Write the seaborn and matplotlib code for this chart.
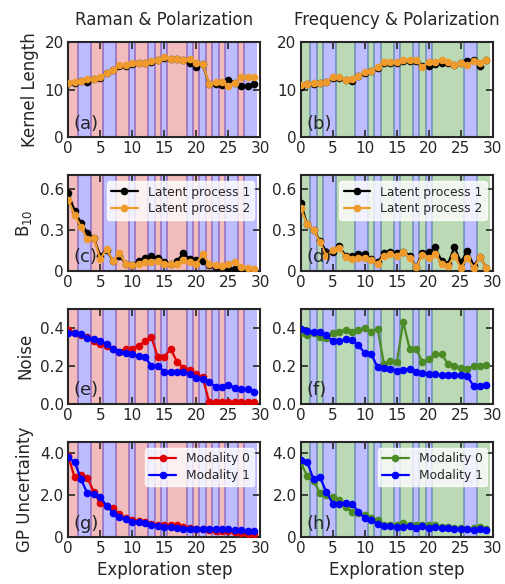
import numpy as np
import pandas as pd
import matplotlib
matplotlib.use("Agg")
import matplotlib.pyplot as plt
import seaborn as sns

steps = list(range(30))

# modality chosen at each step (0 = first modality, 1 = polarization)
mod_left = [0, 0, 1, 1, 0, 0, 1, 1, 0, 0, 1, 0, 0, 1, 0, 1, 0, 0, 0, 1,
            0, 1, 0, 1, 0, 1, 1, 0, 1, 1]
mod_right = [0, 0, 1, 0, 1, 1, 0, 0, 0, 1, 1, 0, 1, 0, 0, 1, 0, 0, 1, 0,
             1, 0, 0, 0, 0, 0, 1, 1, 0, 0]

# Kernel length
kl_a1 = [11.3, 11.5, 11.8, 11.7, 12.2, 12.5, 13.4, 14.1, 14.9, 15.0, 15.4, 15.5, 15.5, 15.9, 16.2,
         16.7, 16.4, 16.4, 16.2, 15.6, 14.8, 15.3, 11.1, 11.1, 11.0, 12.1, 11.5, 10.8, 10.8, 11.1]
kl_a2 = [11.5, 11.7, 11.9, 12.2, 12.3, 12.6, 13.5, 14.2, 15.1, 15.2, 15.5, 15.6, 15.6, 16.0, 16.3,
         16.8, 16.5, 16.5, 16.3, 16.5, 15.6, 15.4, 11.2, 11.6, 11.7, 10.8, 11.5, 12.6, 12.6, 12.6]
kl_b1 = [10.5, 11.1, 11.2, 11.4, 11.6, 12.5, 12.5, 12.0, 11.9, 12.8, 13.6, 13.9, 14.6, 15.7, 15.7,
         15.7, 16.1, 16.1, 16.1, 15.0, 15.0, 15.4, 15.6, 15.7, 15.2, 15.6, 16.0, 16.2, 14.9, 16.2]
kl_b2 = [11.0, 11.2, 11.3, 11.5, 11.7, 12.6, 12.6, 12.1, 12.2, 12.9, 13.8, 14.0, 14.8, 15.8, 15.8,
         15.8, 16.2, 16.2, 16.2, 14.8, 15.8, 15.8, 16.2, 15.8, 15.2, 15.7, 15.2, 16.0, 15.7, 16.3]

# B10
b_c1 = [0.57, 0.44, 0.35, 0.28, 0.24, 0.11, 0.15, 0.07, 0.11, 0.05, 0.04, 0.07, 0.09, 0.11, 0.09,
        0.06, 0.05, 0.07, 0.13, 0.085, 0.08, 0.07, 0.04, 0.03, 0.03, 0.017, 0.01, 0.005, 0.003, 0.002]
b_c2 = [0.52, 0.41, 0.32, 0.23, 0.24, 0.085, 0.16, 0.07, 0.13, 0.05, 0.04, 0.05, 0.06, 0.06, 0.07,
        0.05, 0.045, 0.05, 0.08, 0.06, 0.05, 0.12, 0.05, 0.04, 0.035, 0.05, 0.06, 0.025, 0.02, 0.015]
b_d1 = [0.50, 0.34, 0.30, 0.22, 0.14, 0.14, 0.18, 0.11, 0.11, 0.12, 0.12, 0.085, 0.06, 0.13, 0.14,
        0.13, 0.14, 0.11, 0.025, 0.13, 0.135, 0.17, 0.07, 0.05, 0.175, 0.06, 0.145, 0.035, 0.10, 0.02]
b_d2 = [0.46, 0.34, 0.30, 0.21, 0.11, 0.15, 0.165, 0.10, 0.085, 0.095, 0.095, 0.08, 0.05, 0.11, 0.12,
        0.11, 0.14, 0.095, 0.025, 0.115, 0.095, 0.12, 0.05, 0.035, 0.11, 0.02, 0.095, 0.02, 0.10, 0.02]

# Noise
n_e0 = [0.39, 0.375, 0.36, 0.35, 0.33, 0.315, 0.305, 0.29, 0.275, 0.29, 0.29, 0.305, 0.33, 0.35, 0.245,
        0.245, 0.29, 0.22, 0.19, 0.18, 0.155, 0.14, 0.01, 0.01, 0.01, 0.01, 0.008, 0.008, 0.008, 0.008]
n_e1 = [0.375, 0.37, 0.365, 0.345, 0.34, 0.33, 0.315, 0.29, 0.275, 0.27, 0.26, 0.25, 0.245, 0.20, 0.20,
        0.17, 0.17, 0.17, 0.17, 0.155, 0.135, 0.13, 0.115, 0.09, 0.09, 0.10, 0.085, 0.08, 0.077, 0.065]
n_f0 = [0.375, 0.36, 0.37, 0.35, 0.345, 0.37, 0.38, 0.39, 0.38, 0.39, 0.40, 0.38, 0.395, 0.21, 0.225,
        0.22, 0.43, 0.29, 0.29, 0.22, 0.235, 0.26, 0.26, 0.21, 0.20, 0.19, 0.185, 0.20, 0.20, 0.205]
n_f1 = [0.395, 0.385, 0.38, 0.38, 0.36, 0.33, 0.33, 0.34, 0.335, 0.31, 0.265, 0.26, 0.195, 0.19, 0.185,
        0.175, 0.18, 0.185, 0.17, 0.165, 0.155, 0.155, 0.15, 0.15, 0.15, 0.15, 0.145, 0.095, 0.095, 0.10]

# GP uncertainty
u_g0 = [3.86, 2.83, 2.94, 2.80, 2.15, 1.60, 1.48, 1.40, 1.08, 0.89, 0.84, 0.76, 0.73, 0.64, 0.60,
        0.57, 0.56, 0.56, 0.50, 0.45, 0.41, 0.40, 0.33, 0.32, 0.29, 0.29, 0.25, 0.19, 0.17, 0.16]
u_g1 = [3.78, 3.55, 2.75, 2.07, 2.03, 1.91, 1.48, 1.16, 0.95, 0.87, 0.72, 0.72, 0.68, 0.60, 0.52,
        0.48, 0.48, 0.45, 0.41, 0.40, 0.41, 0.40, 0.41, 0.40, 0.37, 0.37, 0.33, 0.33, 0.32, 0.29]
u_h0 = [3.55, 2.90, 2.67, 2.10, 2.00, 1.90, 1.75, 1.43, 1.21, 1.13, 1.05, 0.89, 0.84, 0.56, 0.56,
        0.57, 0.68, 0.60, 0.57, 0.57, 0.57, 0.56, 0.49, 0.49, 0.45, 0.45, 0.41, 0.45, 0.48, 0.37]
u_h1 = [3.63, 3.55, 2.75, 2.83, 2.15, 1.59, 1.59, 1.64, 1.59, 1.21, 0.89, 0.80, 0.64, 0.52, 0.52,
        0.49, 0.49, 0.52, 0.45, 0.52, 0.45, 0.48, 0.45, 0.45, 0.41, 0.41, 0.41, 0.33, 0.37, 0.33]

col_titles = ["Raman & Polarization", "Frequency & Polarization"]
row_labels = ["Kernel Length", "B$_{10}$", "Noise", "GP Uncertainty"]
panel_tags = ["(a)", "(b)", "(c)", "(d)", "(e)", "(f)", "(g)", "(h)"]
latent_names = ["Latent process 1", "Latent process 2"]
modality_names = ["Modality 0", "Modality 1"]

sns.set_theme(style="ticks")
plt.rcParams["font.family"] = ["DejaVu Sans"]
plt.rcParams["xtick.direction"] = "in"
plt.rcParams["ytick.direction"] = "in"
plt.rcParams["xtick.top"] = True
plt.rcParams["ytick.right"] = True
plt.rcParams["xtick.major.size"] = 5
plt.rcParams["ytick.major.size"] = 5
plt.rcParams["axes.linewidth"] = 1.5
plt.rcParams["xtick.major.width"] = 1.2
plt.rcParams["ytick.major.width"] = 1.2

fig, axes = plt.subplots(4, 2, figsize=(5.05, 5.84), dpi=100)
fig.subplots_adjust(left=0.135, right=0.976, top=0.928, bottom=0.080,
                    wspace=0.21, hspace=0.40)

black = "black"
orange = "#ee9a2c"
red = "#e00000"
blue = "#0000ff"
green = "#4c8a26"

bg_left = {0: "#d83030", 1: "#3030ff"}
bg_right = {0: "#2f8a1a", 1: "#3030ff"}
edge_left = "#7040b0"
edge_right = "#4070a0"


def shade(ax, mods, cmap, edge):
    for s, m in zip(steps, mods):
        ax.axvspan(s - 0.5, s + 0.5, facecolor=cmap[m], alpha=0.32, lw=0, zorder=0)
    for s in steps[1:]:
        if mods[s] != mods[s - 1]:
            ax.axvline(s - 0.5, color=edge, alpha=0.6, lw=1.2, zorder=0.5)


def draw(ax, ys, colors, names, legend):
    for y, c, nm in zip(ys, colors, names):
        df = pd.DataFrame({"step": steps, "val": y})
        sns.lineplot(data=df, x="step", y="val", ax=ax, color=c, marker="o",
                     markersize=5.5, markeredgewidth=0, lw=1.6, label=nm,
                     legend=False, zorder=3)
    if legend:
        ax.legend(loc="upper right", fontsize=8.8, frameon=True, framealpha=0.8,
                  edgecolor="white", fancybox=True, borderpad=0.35,
                  handlelength=2.2, labelspacing=0.3)


data = [
    [([kl_a1, kl_a2], [black, orange], latent_names, False),
     ([kl_b1, kl_b2], [black, orange], latent_names, False)],
    [([b_c1, b_c2], [black, orange], latent_names, True),
     ([b_d1, b_d2], [black, orange], latent_names, True)],
    [([n_e0, n_e1], [red, blue], modality_names, False),
     ([n_f0, n_f1], [green, blue], modality_names, False)],
    [([u_g0, u_g1], [red, blue], modality_names, True),
     ([u_h0, u_h1], [green, blue], modality_names, True)],
]

ylims = [(0, 20), (0, 0.7), (0, 0.5), (0, 4.5)]
yticks = [[0, 10, 20], [0, 0.3, 0.6], [0, 0.2, 0.4], [0, 2, 4]]
yticklabels = [["0", "10", "20"], ["0", "0.3", "0.6"], ["0.0", "0.2", "0.4"], ["0", "2.0", "4.0"]]

k = 0
for r in range(4):
    for c in range(2):
        ax = axes[r, c]
        if c == 0:
            shade(ax, mod_left, bg_left, edge_left)
        else:
            shade(ax, mod_right, bg_right, edge_right)
        ys, cols, names, leg = data[r][c]
        draw(ax, ys, cols, names, leg)
        ax.set_xlim(0, 30)
        ax.set_ylim(*ylims[r])
        ax.set_xticks([0, 5, 10, 15, 20, 25, 30])
        ax.set_yticks(yticks[r])
        ax.set_yticklabels(yticklabels[r])
        ax.tick_params(labelsize=11, pad=3)
        ax.set_xlabel("")
        ax.set_ylabel(row_labels[r] if c == 0 else "", fontsize=12, labelpad=4)
        ax.text(0.03, 0.05, panel_tags[k], transform=ax.transAxes, fontsize=13,
                ha="left", va="bottom", zorder=5)
        k += 1
        if r == 0:
            ax.set_title(col_titles[c], fontsize=12, pad=12)
        if r == 3:
            ax.set_xlabel("Exploration step", fontsize=12, labelpad=3)

fig.savefig("out.png", dpi=100)
